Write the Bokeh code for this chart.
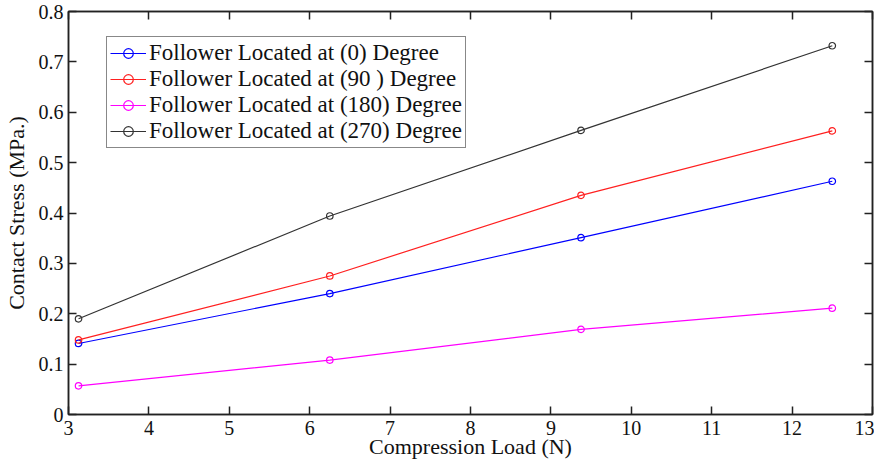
from bokeh.plotting import figure
from bokeh.models import LinearAxis, Range1d, FixedTicker, Legend, LegendItem
from bokeh.embed import file_html
from bokeh.resources import INLINE

# Data
load = [3.125, 6.25, 9.375, 12.5]
stress_0 = [0.141, 0.240, 0.351, 0.463]
stress_90 = [0.148, 0.275, 0.435, 0.563]
stress_180 = [0.057, 0.108, 0.169, 0.211]
stress_270 = [0.190, 0.394, 0.564, 0.732]
series_labels = [
    "Follower Located at (0) Degree",
    "Follower Located at (90 ) Degree",
    "Follower Located at (180) Degree",
    "Follower Located at (270) Degree",
]
series_colors = ["#0000ff", "#ff2020", "#ff00ff", "#333333"]
x_ticks = [3, 4, 5, 6, 7, 8, 9, 10, 11, 12, 13]
y_ticks = [0, 0.1, 0.2, 0.3, 0.4, 0.5, 0.6, 0.7, 0.8]
y_tick_labels = ["0", "0.1", "0.2", "0.3", "0.4", "0.5", "0.6", "0.7", "0.8"]
x_title = "Compression Load (N)"
y_title = "Contact Stress (MPa.)"

FONT = "Liberation Serif"

p = figure(width=874, height=462, output_backend="svg", toolbar_location=None,
           x_range=Range1d(3, 13), y_range=Range1d(0, 0.8),
           min_border_left=58, min_border_right=2, min_border_top=11, min_border_bottom=48)
p.grid.visible = False
p.outline_line_color = "#222222"
p.outline_line_width = 1.5

def style_axis(ax, labels=True):
    ax.axis_line_color = "#222222"
    ax.axis_line_width = 1.5
    ax.major_tick_in = 8
    ax.major_tick_out = 0
    ax.major_tick_line_color = "#222222"
    ax.major_tick_line_width = 1.5
    ax.minor_tick_line_color = None
    ax.major_label_text_font = FONT
    ax.major_label_text_color = "#111111"
    ax.major_label_text_font_size = "20px" if labels else "1px"
    ax.axis_label_text_font = FONT
    ax.axis_label_text_font_style = "normal"
    ax.axis_label_text_font_size = "22px"
    ax.axis_label_text_color = "#111111"

p.xaxis.ticker = FixedTicker(ticks=x_ticks)
p.yaxis.ticker = FixedTicker(ticks=y_ticks)
p.yaxis.major_label_overrides = {t: l for t, l in zip(y_ticks, y_tick_labels)}
p.xaxis.axis_label = x_title
p.yaxis.axis_label = y_title
style_axis(p.xaxis[0])
style_axis(p.yaxis[0])
p.xaxis.major_label_standoff = 6
p.xaxis.axis_label_standoff = -4
p.yaxis.major_label_standoff = 5
p.yaxis.axis_label_standoff = 7

top = LinearAxis(ticker=FixedTicker(ticks=x_ticks))
style_axis(top, labels=False)
top.major_label_standoff = 0
top.major_label_overrides = {t: "" for t in x_ticks}
right = LinearAxis(ticker=FixedTicker(ticks=y_ticks))
style_axis(right, labels=False)
right.major_label_standoff = 0
right.major_label_overrides = {t: "" for t in y_ticks}
p.add_layout(top, "above")
p.add_layout(right, "right")

series = [stress_0, stress_90, stress_180, stress_270]
items = []
for vals, lab, col in zip(series, series_labels, series_colors):
    r1 = p.line(load, vals, line_color=col, line_width=1.2)
    r2 = p.scatter(load, vals, marker="circle", size=6.5, fill_color=None,
                   line_color=col, line_width=1.2)
    items.append(LegendItem(label=lab, renderers=[r1, r2]))

legend = Legend(items=items, location=(38, 266))
legend.label_text_font = FONT
legend.label_text_font_size = "23px"
legend.label_text_color = "#111111"
legend.label_height = 24
legend.glyph_height = 24
legend.glyph_width = 36
legend.label_standoff = 3
legend.spacing = 0
legend.padding = 3
legend.border_line_color = "#111111"
legend.border_line_width = 1.2
legend.background_fill_alpha = 1.0
legend.margin = 0
p.add_layout(legend, "center")

open("out.html", "w").write(file_html(p, INLINE))
